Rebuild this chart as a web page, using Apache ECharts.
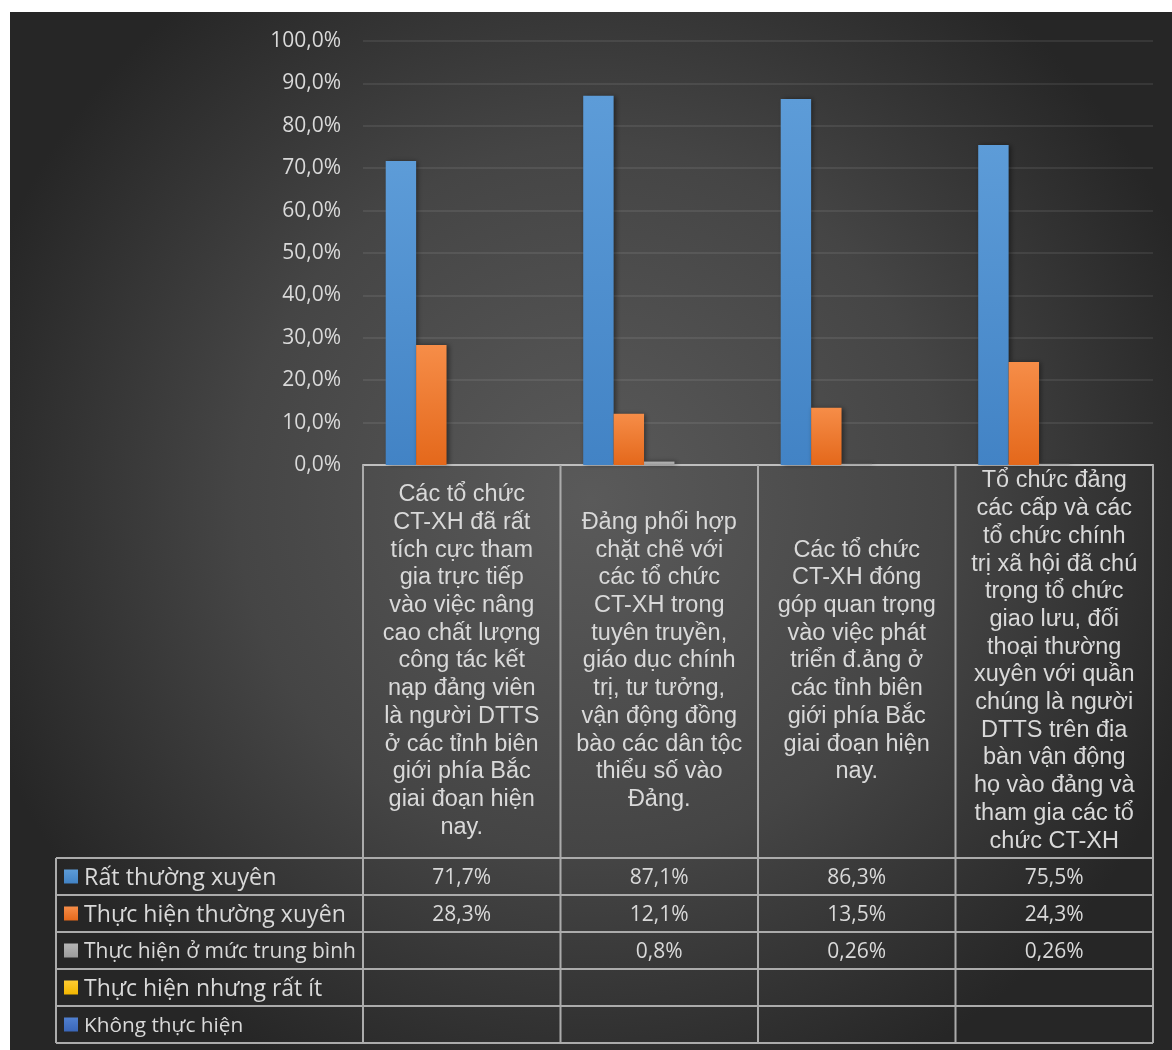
<!DOCTYPE html>
<html>
<head>
<meta charset="utf-8">
<script src="https://cdn.jsdelivr.net/npm/echarts@6/dist/echarts.min.js"></script>
<style>
html, body { margin: 0; background: #fff; }
#echart { width: 1172px; height: 1050px; }
</style>
</head>
<body>
<div id="echart"></div>
<script>
// category labels, line breaks as in the original table
var categories = [
    "Các tổ chức\nCT-XH đã rất\ntích cực tham\ngia trực tiếp\nvào việc nâng\ncao chất lượng\ncông tác kết\nnạp đảng viên\nlà người DTTS\nở các tỉnh biên\ngiới phía Bắc\ngiai đoạn hiện\nnay.",
    "Đảng phối hợp\nchặt chẽ với\ncác tổ chức\nCT-XH trong\ntuyên truyền,\ngiáo dục chính\ntrị, tư tưởng,\nvận động đồng\nbào các dân tộc\nthiểu số vào\nĐảng.",
    "Các tổ chức\nCT-XH đóng\ngóp quan trọng\nvào việc phát\ntriển đ.ảng ở\ncác tỉnh biên\ngiới phía Bắc\ngiai đoạn hiện\nnay.",
    "Tổ chức đảng\ncác cấp và các\ntổ chức chính\ntrị xã hội đã chú\ntrọng tổ chức\ngiao lưu, đối\nthoại thường\nxuyên với quần\nchúng là người\nDTTS trên địa\nbàn vận động\nhọ vào đảng và\ntham gia các tổ\nchức CT-XH"
];

var seriesNames = [
    "Rất thường xuyên",
    "Thực hiện thường xuyên",
    "Thực hiện ở mức trung bình",
    "Thực hiện nhưng rất ít",
    "Không thực hiện"
];

var ratThuongXuyen = [71.7, 87.1, 86.3, 75.5];
var thucHienThuongXuyen = [28.3, 12.1, 13.5, 24.3];
var trungBinh = [null, 0.8, 0.26, 0.26];
var ratIt = [null, null, null, null];
var khongThucHien = [null, null, null, null];

var seriesData = [ratThuongXuyen, thucHienThuongXuyen, trungBinh, ratIt, khongThucHien];

var colors = [
    ["#5d9cd8", "#4283c5"],
    ["#f68d48", "#e4681b"],
    ["#b5b5b5", "#9c9c9c"],
    ["#ffcc33", "#f2b600"],
    ["#5080d0", "#3a66b8"]
];

// layout
var GRID_L = 363, GRID_R = 1153, GRID_T = 41, GRID_B = 465;
var TABLE_TOP = 858, ROW_H = 37, LEGEND_L = 56;

function fmt(v) {
    if (v == null) return "";
    return String(v).replace(".", ",") + "%";
}

function grad(c) {
    return new echarts.graphic.LinearGradient(0, 0, 0, 1, [
        { offset: 0, color: c[0] },
        { offset: 1, color: c[1] }
    ]);
}

var chartDom = document.getElementById('echart');
var myChart = echarts.init(chartDom);

var textColor = "#d9d9d9";

// x axes: first one is the bars, the rest hold the table values
var xAxes = [{
    type: "category",
    data: categories,
    position: "bottom",
    axisLine: { show: true, lineStyle: { color: "#bfbfbf", width: 2 } },
    axisTick: { show: false },
    axisLabel: {
        interval: 0,
        margin: 196,
        verticalAlign: "middle",
        color: textColor,
        fontFamily: "Liberation Sans",
        fontSize: 23.5,
        lineHeight: 27.7
    }
}];
seriesData.forEach(function (d, r) {
    xAxes.push({
        type: "category",
        data: d.map(fmt),
        position: "bottom",
        axisLine: { show: false },
        axisTick: { show: false },
        splitLine: { show: false },
        axisLabel: {
            interval: 0,
            margin: TABLE_TOP - GRID_B + ROW_H * r + ROW_H / 2 + 2,
            verticalAlign: "middle",
            color: textColor,
            fontFamily: "Open Sans",
            fontSize: 21
        }
    });
});

// table lines
var graphics = [];
var lineStyle = { stroke: "#ababab", lineWidth: 2 };
var colW = (GRID_R - GRID_L) / categories.length;
var tableBottom = TABLE_TOP + ROW_H * seriesNames.length;
for (var r = 0; r <= seriesNames.length; r++) {
    var y = TABLE_TOP + ROW_H * r;
    graphics.push({ type: "line", shape: { x1: LEGEND_L, y1: y, x2: GRID_R, y2: y }, style: lineStyle, z: 5 });
}
for (var i = 0; i <= categories.length; i++) {
    var x = GRID_L + colW * i;
    graphics.push({ type: "line", shape: { x1: x, y1: GRID_B, x2: x, y2: tableBottom }, style: lineStyle, z: 5 });
}
graphics.push({ type: "line", shape: { x1: LEGEND_L, y1: TABLE_TOP, x2: LEGEND_L, y2: tableBottom }, style: lineStyle, z: 5 });

// legend keys inside the table
var legendSizes = [23.3, 23.1, 21, 23, 20.8];
seriesNames.forEach(function (n, i) {
    var cy = TABLE_TOP + ROW_H * i + ROW_H / 2;
    graphics.push({
        type: "rect",
        shape: { x: 64, y: cy - 7, width: 14, height: 14 },
        style: { fill: grad(colors[i]) },
        z: 6
    });
    graphics.push({
        type: "text",
        x: 84,
        y: cy + 2,
        style: {
            text: n,
            fill: textColor,
            font: legendSizes[i] + "px 'Open Sans'",
            verticalAlign: "middle"
        },
        z: 6
    });
});

var option = {
    animation: false,
    graphic: [{
        type: "rect",
        shape: { x: 10, y: 12, width: 1162, height: 1038 },
        style: {
            fill: new echarts.graphic.RadialGradient(0.5, 0.47, 0.62, [
                { offset: 0, color: "#5a5a5a" },
                { offset: 0.55, color: "#454545" },
                { offset: 1, color: "#262626" }
            ])
        },
        z: -100,
        silent: true
    }].concat(graphics),
    grid: {
        left: GRID_L,
        right: 1172 - GRID_R,
        top: GRID_T,
        bottom: 1050 - GRID_B
    },
    xAxis: xAxes,
    yAxis: {
        type: "value",
        min: 0,
        max: 100,
        interval: 10,
        axisLine: { show: false },
        axisTick: { show: false },
        axisLabel: {
            margin: 22,
            color: textColor,
            fontFamily: "Open Sans",
            fontSize: 21,
            formatter: function (v) { return v.toFixed(1).replace(".", ",") + "%"; }
        },
        splitLine: { lineStyle: { color: "rgba(255,255,255,0.08)", width: 2 } }
    },
    series: seriesNames.map(function (n, i) {
        return {
            name: n,
            type: "bar",
            xAxisIndex: 0,
            data: seriesData[i],
            barGap: "0%",
            barCategoryGap: "23%",
            itemStyle: {
                color: grad(colors[i]),
                shadowBlur: 5,
                shadowColor: "rgba(0,0,0,0.45)",
                shadowOffsetX: 2
            }
        };
    })
};

myChart.setOption(option);

window.addEventListener("resize", function () {
    myChart.resize();
});
</script>
</body>
</html>
